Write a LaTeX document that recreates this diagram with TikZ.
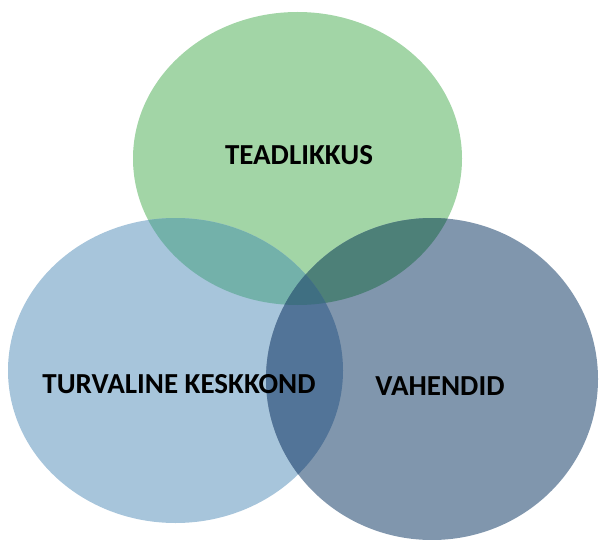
\documentclass[tikz,border=0pt]{standalone}
\usepackage{fontspec}
\setmainfont{Carlito}
\usetikzlibrary{positioning}

\definecolor{teadGreen}{HTML}{A2D5A6}
\definecolor{turvBlue}{HTML}{A7C5DB}
\definecolor{vahGrey}{HTML}{8096AD}
\definecolor{greenLight}{HTML}{73B1AA}
\definecolor{greenDark}{HTML}{4D8078}
\definecolor{lightDark}{HTML}{527498}
\definecolor{allThree}{HTML}{3F6F82}

\begin{document}
\begin{tikzpicture}[x=1pt, y=-1pt,
		lbl/.style={font=\fontsize{29}{34}\selectfont\bfseries, text=black, inner sep=0pt},
		greenE/.style={insert path={(297.5,158.5) ellipse [x radius=164.5, y radius=146.5]}},
		lightE/.style={insert path={(175.5,370.5) ellipse [x radius=167.5, y radius=152.5]}},
		darkE/.style={insert path={(432,379) ellipse [x radius=166, y radius=161]}}]

	\useasboundingbox (0,0) rectangle (599,540);

	% ── circles ──
	\fill[teadGreen, greenE];
	\fill[turvBlue, lightE];
	\fill[vahGrey, darkE];

	% ── overlaps ──
	\begin{scope}
		\clip[greenE];
		\fill[greenLight, lightE];
	\end{scope}
	\begin{scope}
		\clip[greenE];
		\fill[greenDark, darkE];
	\end{scope}
	\begin{scope}
		\clip[lightE];
		\fill[lightDark, darkE];
	\end{scope}
	\begin{scope}
		\clip[greenE];
		\clip[lightE];
		\fill[allThree, darkE];
	\end{scope}

	% ── labels ──
	\node[lbl] (tead) at (299,155) {TEADLIKKUS};
	\node[lbl] (turv) at (179,384) {TURVALINE KESKKOND};
	\node[lbl] (vah) at (440,386) {VAHENDID};

\end{tikzpicture}
\end{document}
